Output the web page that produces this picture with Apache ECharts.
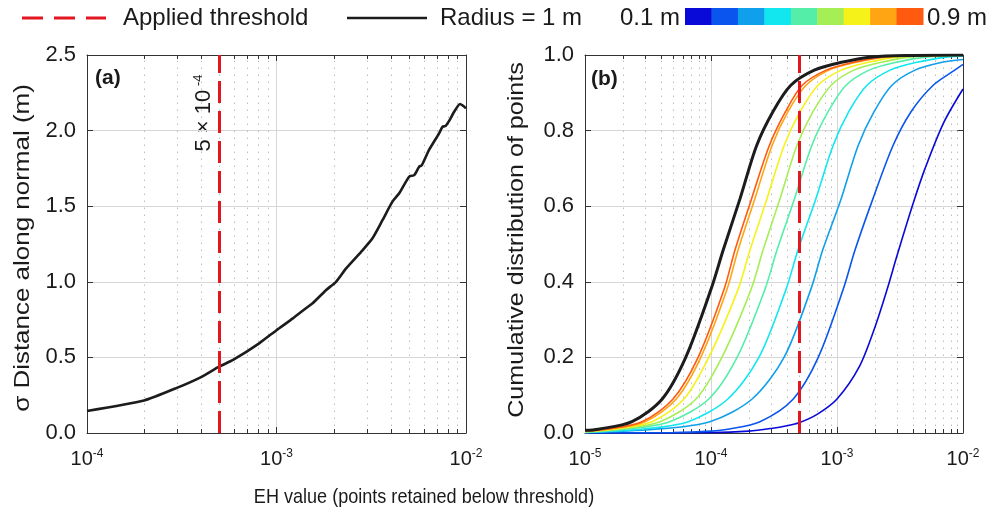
<!DOCTYPE html>
<html><head><meta charset="utf-8">
<script src="https://cdn.jsdelivr.net/npm/echarts@6/dist/echarts.min.js"></script>
<style>html,body{margin:0;padding:0;background:#fff}#c{width:990px;height:515px}</style>
</head><body><div id="c"></div>
<script>
// ---------------- DATA ----------------
const thresholdEH = 5e-4;
const radiusLabels = ['0.1 m','0.2 m','0.3 m','0.4 m','0.5 m','0.6 m','0.7 m','0.8 m','0.9 m'];
const minorTicksA = [2e-4,3e-4,4e-4,5e-4,6e-4,7e-4,8e-4,9e-4,2e-3,3e-3,4e-3,5e-3,6e-3,7e-3,8e-3,9e-3];
const minorTicksB = [2e-5,3e-5,4e-5,5e-5,6e-5,7e-5,8e-5,9e-5,2e-4,3e-4,4e-4,5e-4,6e-4,7e-4,8e-4,9e-4,2e-3,3e-3,4e-3,5e-3,6e-3,7e-3,8e-3,9e-3];

// Panel (a): sigma distance along normal vs EH value
const sigmaA = [[1e-4,0.146],[2e-4,0.215],[3e-4,0.30],[4e-4,0.37],[5e-4,0.44],[5.9e-4,0.483],[8.1e-4,0.593],[1e-3,0.68],[1.22e-3,0.758],[1.43e-3,0.825],[1.55e-3,0.858],[1.83e-3,0.946],[2.06e-3,1.0],[2.33e-3,1.089],[2.85e-3,1.21],[3.21e-3,1.288],[3.63e-3,1.409],[4.09e-3,1.53],[4.44e-3,1.585],[5.01e-3,1.695],[5.33e-3,1.706],[5.66e-3,1.761],[5.85e-3,1.772],[6.38e-3,1.872],[7.21e-3,1.982],[7.53e-3,2.026],[7.8e-3,2.03],[8.1e-3,2.059],[8.77e-3,2.136],[9.3e-3,2.176],[9.8e-3,2.158],[1e-2,2.147]];

// Panel (b): cumulative distributions per radius
const cdfR01 = [[1e-5,0],[1e-4,0.001],[2e-4,0.005],[3e-4,0.012],[4e-4,0.019],[5e-4,0.027],[7e-4,0.05],[1e-3,0.09],[1.5e-3,0.175],[2e-3,0.28],[2.5e-3,0.38],[3e-3,0.47],[4e-3,0.605],[5e-3,0.70],[7e-3,0.82],[1e-2,0.91]];
const cdfR02 = [[1e-5,0],[5e-5,0.001],[1e-4,0.005],[1.36e-4,0.01],[2.45e-4,0.03],[4.5e-4,0.09],[7.1e-4,0.2],[1.12e-3,0.38],[1.39e-3,0.484],[1.93e-3,0.62],[2.78e-3,0.76],[3.87e-3,0.85],[5.8e-3,0.92],[8.6e-3,0.96],[1e-2,0.975]];
const cdfR03 = [[1e-5,0.001],[3.6e-5,0.01],[9.8e-5,0.03],[2.12e-4,0.09],[3.8e-4,0.2],[6.2e-4,0.38],[7.7e-4,0.484],[1.08e-3,0.62],[1.47e-3,0.76],[1.97e-3,0.85],[2.73e-3,0.92],[4.16e-3,0.96],[6.7e-3,0.98],[1e-2,0.988]];
const cdfR04 = [[1e-5,0.0015],[2.73e-5,0.01],[6.6e-5,0.03],[1.36e-4,0.09],[2.4e-4,0.2],[3.94e-4,0.38],[4.9e-4,0.484],[6.8e-4,0.62],[9.3e-4,0.76],[1.24e-3,0.85],[1.73e-3,0.92],[2.64e-3,0.96],[4.2e-3,0.98],[7.6e-3,0.995],[1e-2,0.997]];
const cdfR05 = [[1e-5,0.002],[2.08e-5,0.01],[4.7e-5,0.03],[9.6e-5,0.09],[1.61e-4,0.2],[2.68e-4,0.38],[3.34e-4,0.484],[4.6e-4,0.62],[6.3e-4,0.76],[8.5e-4,0.85],[1.18e-3,0.92],[1.8e-3,0.96],[2.9e-3,0.98],[5.2e-3,0.995],[1e-2,0.999]];
const cdfR06 = [[1e-5,0.003],[1.83e-5,0.01],[3.94e-5,0.03],[7.6e-5,0.09],[1.22e-4,0.2],[2.08e-4,0.38],[2.59e-4,0.484],[3.53e-4,0.62],[4.8e-4,0.76],[6.45e-4,0.85],[9.0e-4,0.92],[1.36e-3,0.96],[2.2e-3,0.98],[3.9e-3,0.995],[7.5e-3,0.999],[1e-2,1]];
const cdfR07 = [[1e-5,0.004],[1.64e-5,0.01],[3.4e-5,0.03],[6.1e-5,0.09],[9.6e-5,0.2],[1.64e-4,0.38],[2.04e-4,0.484],[2.78e-4,0.62],[3.8e-4,0.76],[5.1e-4,0.85],[7.07e-4,0.92],[1.08e-3,0.96],[1.73e-3,0.98],[3.1e-3,0.995],[6.5e-3,0.999],[1e-2,1]];
const cdfR08 = [[1e-5,0.005],[1.52e-5,0.01],[3.0e-5,0.03],[5.3e-5,0.09],[8.3e-5,0.2],[1.34e-4,0.38],[1.64e-4,0.484],[2.23e-4,0.62],[3.05e-4,0.76],[4.08e-4,0.85],[5.68e-4,0.92],[8.64e-4,0.96],[1.39e-3,0.98],[2.49e-3,0.995],[5.5e-3,0.999],[1e-2,1]];
const cdfR09 = [[1e-5,0.005],[1.47e-5,0.01],[2.83e-5,0.03],[5.0e-5,0.09],[7.9e-5,0.2],[1.27e-4,0.38],[1.55e-4,0.484],[2.1e-4,0.62],[2.9e-4,0.76],[3.9e-4,0.85],[5.3e-4,0.92],[8.2e-4,0.96],[1.32e-3,0.98],[2.36e-3,0.995],[5e-3,0.999],[1e-2,1]];
const cdfR10 = [[1e-5,0.007],[1.27e-5,0.01],[2.36e-5,0.03],[4.1e-5,0.09],[6.3e-5,0.2],[1.0e-4,0.38],[1.25e-4,0.484],[1.7e-4,0.62],[2.3e-4,0.76],[3.1e-4,0.85],[4.3e-4,0.92],[6.6e-4,0.96],[1.06e-3,0.98],[1.9e-3,0.995],[4e-3,0.999],[1e-2,1]];
const radiusCurves = [cdfR01,cdfR02,cdfR03,cdfR04,cdfR05,cdfR06,cdfR07,cdfR08,cdfR09];

// ---------------- STYLE ----------------
const FONT = "'Liberation Sans', Arial, Helvetica, sans-serif";
const radiusColors = ['#0a0ad8','#0a55ee','#109fea','#12e6ee','#55eea8','#a6ee55','#f5f21a','#ffa514','#ff5a10'];
const AX = '#333';
const RED = '#e3171f';

function expLabel(v) {
  const e = Math.round(Math.log10(v));
  return '{b|10}{s|' + (e < 0 ? '-' + Math.abs(e) : e) + '}';
}
const xRich = {
  b: {fontSize: 20, fontFamily: FONT, color: '#1a1a1a', lineHeight: 22},
  s: {fontSize: 12, fontFamily: FONT, color: '#1a1a1a', lineHeight: 12, verticalAlign: 'top'}
};

function logX(gridIndex, min, max, pos) {
  const bottom = pos === 'bottom';
  return {
    type: 'log', logBase: 10, gridIndex, min, max, position: pos,
    axisLine: {show: true, onZero: false, lineStyle: {color: AX, width: 1}},
    axisTick: {show: true, inside: true, length: 6, lineStyle: {color: AX}},
    axisLabel: bottom ? {show: true, margin: 15, formatter: expLabel, rich: xRich} : {show: false},
    splitLine: {show: bottom, lineStyle: {color: '#d6d6d6', width: 1}},
    minorTick: {show: false}, minorSplitLine: {show: false}
  };
}
function linY(gridIndex, max, interval, pos) {
  const left = pos === 'left';
  return {
    type: 'value', gridIndex, min: 0, max, interval, position: pos,
    axisLine: {show: true, lineStyle: {color: AX, width: 1}},
    axisTick: {show: true, inside: true, length: 6, lineStyle: {color: AX}},
    axisLabel: left ? {show: true, margin: 11, fontSize: 22, fontFamily: FONT, color: '#1a1a1a', formatter: v => v.toFixed(1)} : {show: false},
    splitLine: {show: left, lineStyle: {color: '#d6d6d6', width: 1}}
  };
}
function minorRender(yMin, yMax) {
  return function (params, api) {
    const x = api.value(0);
    const p0 = api.coord([x, yMin]), p1 = api.coord([x, yMax]);
    const px = Math.round(p0[0]) + 0.5;
    return {type: 'group', children: [
      {type: 'line', shape: {x1: px, y1: p0[1], x2: px, y2: p1[1]}, style: {stroke: '#bdbdbd', lineWidth: 1, lineDash: [1.5, 5.5]}},
      {type: 'line', shape: {x1: px, y1: p0[1], x2: px, y2: p0[1] - 4}, style: {stroke: AX, lineWidth: 1}},
      {type: 'line', shape: {x1: px, y1: p1[1], x2: px, y2: p1[1] + 4}, style: {stroke: AX, lineWidth: 1}}
    ]};
  };
}
function thresholdLine(yMax) {
  return {
    silent: true, symbol: ['none', 'none'], label: {show: false},
    lineStyle: {color: RED, width: 3, type: [22, 8], opacity: 1},
    emphasis: {disabled: true},
    data: [[{coord: [thresholdEH, 0]}, {coord: [thresholdEH, yMax]}]]
  };
}

const series = [];
series.push({type: 'custom', xAxisIndex: 0, yAxisIndex: 0, z: 1, silent: true,
  renderItem: minorRender(0, 2.5), data: minorTicksA.map(v => [v, 0]), clip: false});
series.push({type: 'custom', xAxisIndex: 2, yAxisIndex: 2, z: 1, silent: true,
  renderItem: minorRender(0, 1), data: minorTicksB.map(v => [v, 0]), clip: false});
series.push({type: 'line', name: 'sigma', xAxisIndex: 0, yAxisIndex: 0, data: sigmaA, z: 3,
  showSymbol: false, smooth: 0.2, lineStyle: {color: '#1c1c1c', width: 2.6},
  markLine: thresholdLine(2.5)});
radiusCurves.forEach((d, i) => {
  series.push({type: 'line', name: radiusLabels[i], xAxisIndex: 2, yAxisIndex: 2, data: d, z: 3,
    showSymbol: false, smooth: 0.3, lineStyle: {color: radiusColors[i], width: 1.6}});
});
series.push({type: 'line', name: 'Radius = 1 m', xAxisIndex: 2, yAxisIndex: 2, data: cdfR10, z: 4,
  showSymbol: false, smooth: 0.3, lineStyle: {color: '#1c1c1c', width: 3},
  markLine: thresholdLine(1)});

// legend / annotations (graphic)
const g = [];
g.push({type: 'line', shape: {x1: 22, y1: 18, x2: 106, y2: 18}, style: {stroke: RED, lineWidth: 3, lineDash: [21, 11]}});
g.push({type: 'text', x: 123, y: 18, style: {text: 'Applied threshold', fontSize: 24, fontFamily: FONT, fill: '#1a1a1a', align: 'left', verticalAlign: 'middle'}});
g.push({type: 'line', shape: {x1: 347, y1: 18, x2: 427, y2: 18}, style: {stroke: '#1c1c1c', lineWidth: 2.6}});
g.push({type: 'text', x: 440, y: 18, style: {text: 'Radius = 1 m', fontSize: 24, fontFamily: FONT, fill: '#1a1a1a', align: 'left', verticalAlign: 'middle'}});
g.push({type: 'text', x: 620, y: 18, style: {text: radiusLabels[0], fontSize: 24, fontFamily: FONT, fill: '#1a1a1a', align: 'left', verticalAlign: 'middle'}});
const cbX = 685, cbW = (923 - 685) / radiusColors.length;
radiusColors.forEach((c, i) => {
  g.push({type: 'rect', shape: {x: cbX + i * cbW, y: 8, width: cbW + 0.5, height: 17}, style: {fill: c}});
});
g.push({type: 'text', x: 927, y: 18, style: {text: radiusLabels[8], fontSize: 24, fontFamily: FONT, fill: '#1a1a1a', align: 'left', verticalAlign: 'middle'}});
g.push({type: 'text', x: 95, y: 78, style: {text: '(a)', fontSize: 21, fontWeight: 'bold', fontFamily: FONT, fill: '#1a1a1a', align: 'left', verticalAlign: 'middle'}});
g.push({type: 'text', x: 591, y: 79, style: {text: '(b)', fontSize: 21, fontWeight: 'bold', fontFamily: FONT, fill: '#1a1a1a', align: 'left', verticalAlign: 'middle'}});
g.push({type: 'text', x: 204, y: 113, rotation: Math.PI / 2, style: {
  text: '{n|5 × 10}{s| -4}', align: 'center', verticalAlign: 'middle',
  rich: {n: {fontSize: 22, fontFamily: FONT, fill: '#1a1a1a', lineHeight: 24},
         s: {fontSize: 13, fontFamily: FONT, fill: '#1a1a1a', lineHeight: 13, verticalAlign: 'top'}}}});
g.push({type: 'text', x: 23, y: 248, rotation: Math.PI / 2, scaleX: 1.18, style: {text: 'σ Distance along normal (m)', fontSize: 22, fontFamily: FONT, fill: '#1a1a1a', align: 'center', verticalAlign: 'middle'}});
g.push({type: 'text', x: 517, y: 240, rotation: Math.PI / 2, scaleX: 1.14, style: {text: 'Cumulative distribution of points', fontSize: 22, fontFamily: FONT, fill: '#1a1a1a', align: 'center', verticalAlign: 'middle'}});
g.push({type: 'text', x: 424, y: 497, scaleX: 0.86, style: {text: 'EH value (points retained below threshold)', fontSize: 21, fontFamily: FONT, fill: '#1a1a1a', align: 'center', verticalAlign: 'middle'}});

const chart = echarts.init(document.getElementById('c'), null, {renderer: 'canvas'});
chart.setOption({
  animation: false,
  backgroundColor: '#ffffff',
  textStyle: {fontFamily: FONT},
  grid: [
    {left: 87, top: 55, width: 379, height: 378, containLabel: false},
    {left: 585, top: 55, width: 378, height: 378, containLabel: false}
  ],
  xAxis: [logX(0, 1e-4, 1e-2, 'bottom'), logX(0, 1e-4, 1e-2, 'top'), logX(1, 1e-5, 1e-2, 'bottom'), logX(1, 1e-5, 1e-2, 'top')],
  yAxis: [linY(0, 2.5, 0.5, 'left'), linY(0, 2.5, 0.5, 'right'), linY(1, 1, 0.2, 'left'), linY(1, 1, 0.2, 'right')],
  series,
  graphic: g
});
</script></body></html>
